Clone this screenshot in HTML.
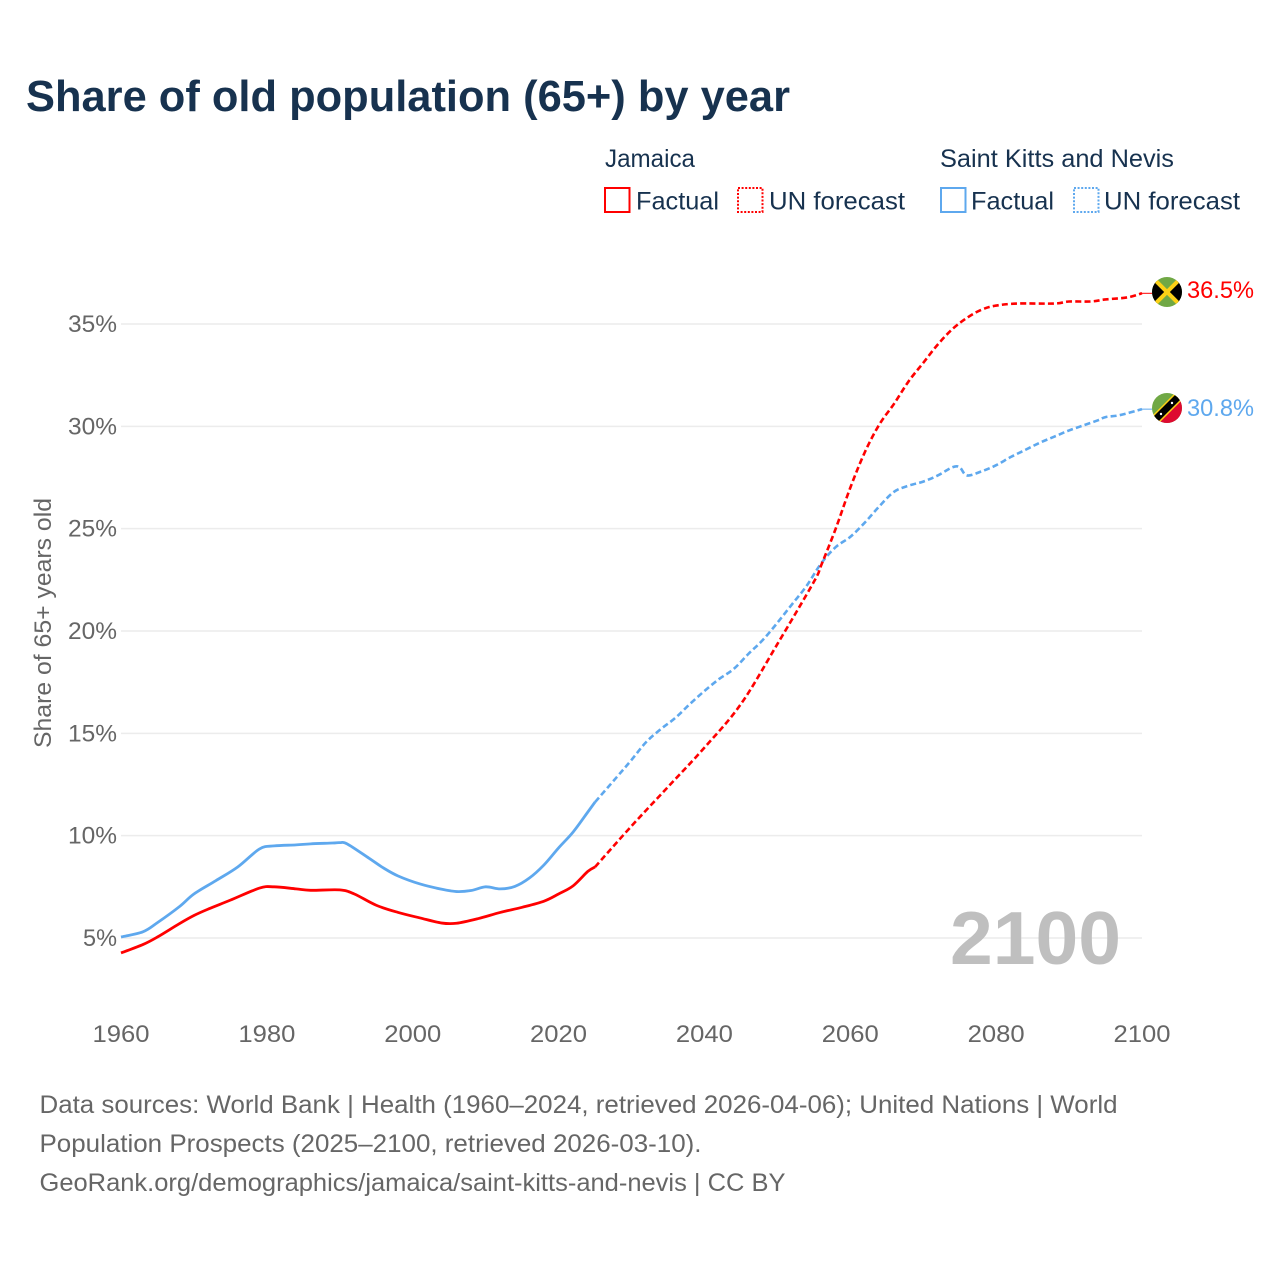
<!DOCTYPE html>
<html lang="en">
<head>
<meta charset="utf-8">
<title>Share of old population (65+) by year</title>
<style>
html,body{margin:0;padding:0;background:#fff;width:1280px;height:1280px;overflow:hidden}
svg{display:block}
text{font-family:"Liberation Sans",sans-serif}
</style>
</head>
<body>
<svg id="chart" xmlns="http://www.w3.org/2000/svg" width="1280" height="1280" viewBox="0 0 1280 1280">
  <rect width="1280" height="1280" fill="#fff"/>
  <text x="26" y="111" font-size="44" font-weight="700" fill="#17324f" textLength="764" lengthAdjust="spacingAndGlyphs">Share of old population (65+) by year</text>

  <g font-size="25" fill="#17324f">
    <text x="605" y="167" textLength="90" lengthAdjust="spacingAndGlyphs">Jamaica</text>
    <rect x="605" y="188" width="24.500" height="24" fill="none" stroke="#ff0000" stroke-width="2"/>
    <text x="636" y="209.500" textLength="83" lengthAdjust="spacingAndGlyphs">Factual</text>
    <rect x="738" y="188" width="24.500" height="24" fill="none" stroke="#ff0000" stroke-width="2" stroke-dasharray="2 1.600"/>
    <text x="769" y="209.500" textLength="136" lengthAdjust="spacingAndGlyphs">UN forecast</text>
    <text x="940" y="167" textLength="234" lengthAdjust="spacingAndGlyphs">Saint Kitts and Nevis</text>
    <rect x="941" y="188" width="24.500" height="24" fill="none" stroke="#5ea8ee" stroke-width="2"/>
    <text x="971" y="209.500" textLength="83" lengthAdjust="spacingAndGlyphs">Factual</text>
    <rect x="1074" y="188" width="24.500" height="24" fill="none" stroke="#5ea8ee" stroke-width="2" stroke-dasharray="2 1.600"/>
    <text x="1104" y="209.500" textLength="136" lengthAdjust="spacingAndGlyphs">UN forecast</text>
  </g>

  <g id="grid"></g>
  <g id="y-ticks"></g>
  <g id="x-ticks"></g>
  <text transform="translate(51,748) rotate(-90)" font-size="24.500" fill="#666" textLength="250" lengthAdjust="spacingAndGlyphs">Share of 65+ years old</text>
  <text x="950" y="964" font-size="75" font-weight="700" fill="#bfbfbf" textLength="171" lengthAdjust="spacingAndGlyphs">2100</text>
  <g id="series"></g>

  <defs>
    <clipPath id="clip-jm"><circle cx="1167" cy="292" r="15"/></clipPath>
    <clipPath id="clip-kn"><circle cx="1167" cy="408" r="15"/></clipPath>
  </defs>
  <g clip-path="url(#clip-jm)">
    <rect x="1152" y="277" width="30" height="30" fill="#70a845"/>
    <polygon points="1152,277 1167,292 1152,307" fill="#000"/>
    <polygon points="1182,277 1167,292 1182,307" fill="#000"/>
    <line x1="1152" y1="277" x2="1182" y2="307" stroke="#fcd116" stroke-width="4"/>
    <line x1="1182" y1="277" x2="1152" y2="307" stroke="#fcd116" stroke-width="4"/>
  </g>
  <g clip-path="url(#clip-kn)">
    <rect x="1152" y="393" width="30" height="30" fill="#70a845"/>
    <polygon points="1182,393 1182,423 1152,423" fill="#de0a30"/>
    <line x1="1152" y1="423" x2="1182" y2="393" stroke="#fcd116" stroke-width="10"/>
    <line x1="1152" y1="423" x2="1182" y2="393" stroke="#000" stroke-width="7"/>
    <circle cx="1161" cy="414" r="1.200" fill="#fff"/>
    <circle cx="1172" cy="403" r="1.200" fill="#fff"/>
  </g>
  <text id="value-jamaica" x="1187" y="298" font-size="24" fill="#ff0000" textLength="67" lengthAdjust="spacingAndGlyphs"></text>
  <text id="value-kn" x="1187" y="416" font-size="24" fill="#5ea8ee" textLength="67" lengthAdjust="spacingAndGlyphs"></text>

  <g font-size="25" fill="#666">
    <text x="39.500" y="1113" textLength="1078" lengthAdjust="spacingAndGlyphs">Data sources: World Bank | Health (1960–2024, retrieved 2026-04-06); United Nations | World</text>
    <text x="39.500" y="1152" textLength="662" lengthAdjust="spacingAndGlyphs">Population Prospects (2025–2100, retrieved 2026-03-10).</text>
    <text x="39.500" y="1191" textLength="746" lengthAdjust="spacingAndGlyphs">GeoRank.org/demographics/jamaica/saint-kitts-and-nevis | CC BY</text>
  </g>
</svg>
<script>
const yTickValues = [5, 10, 15, 20, 25, 30, 35];
const xTickYears = [1960, 1980, 2000, 2020, 2040, 2060, 2080, 2100];

const jamaicaFactualYears = [1960,1963,1965,1968,1970,1972,1975,1979,1981,1984,1986,1990,1992,1995,1998,2001,2004,2006,2009,2012,2015,2018,2020,2022,2024,2025];
const jamaicaFactualValues = [4.27,4.68,5.05,5.7,6.1,6.42,6.85,7.44,7.5,7.4,7.33,7.35,7.15,6.6,6.25,5.98,5.73,5.72,5.95,6.25,6.5,6.8,7.15,7.55,8.25,8.47];

const jamaicaForecastYears = [2025,2030,2035,2040,2045,2050,2055,2056,2058,2060,2062,2064,2066,2068,2070,2072,2074,2076,2078,2080,2083,2088,2090,2093,2095,2098,2100];
const jamaicaForecastValues = [8.47,10.47,12.38,14.3,16.43,19.36,22.4,23.2,25.0,27.0,28.74,30.1,31.1,32.2,33.1,34.0,34.75,35.3,35.7,35.9,36.0,36.0,36.1,36.1,36.2,36.3,36.5];

const kittsFactualYears = [1960,1963,1965,1968,1970,1973,1976,1979,1981,1984,1986,1989,1990,1991,1994,1996,1998,2001,2004,2006,2008,2010,2012,2014,2016,2018,2020,2022,2024,2025];
const kittsFactualValues = [5.05,5.3,5.75,6.53,7.15,7.8,8.47,9.35,9.5,9.55,9.6,9.64,9.66,9.6,8.9,8.42,8.03,7.64,7.38,7.27,7.32,7.5,7.4,7.52,7.93,8.57,9.4,10.18,11.15,11.64];

const kittsForecastYears = [2025,2028,2030,2032,2034,2036,2038,2040,2042,2044,2046,2048,2050,2052,2054,2056,2058,2060,2062,2064,2066,2068,2070,2072,2074,2075,2076,2078,2080,2082,2084,2086,2088,2090,2092,2094,2095,2097,2100];
const kittsForecastValues = [11.64,12.87,13.7,14.57,15.2,15.75,16.43,17.07,17.65,18.14,18.87,19.56,20.4,21.3,22.2,23.3,24.1,24.6,25.3,26.1,26.8,27.1,27.3,27.6,28.0,28.0,27.6,27.8,28.1,28.5,28.85,29.2,29.5,29.8,30.05,30.3,30.45,30.55,30.84];

const RED = '#ff0000';
const BLUE = '#5ea8ee';
const NS = 'http://www.w3.org/2000/svg';
const xScale = function (year) { return 121 + (year - 1960) * (1142 - 121) / 140; };
const yScale = function (value) { return 938 - (value - 5) * (938 - 324) / 30; };

function make(tag, parent, attrs) {
  const el = document.createElementNS(NS, tag);
  Object.keys(attrs).forEach(function (k) { el.setAttribute(k, attrs[k]); });
  parent.appendChild(el);
  return el;
}

function smoothPath(years, values) {
  const p = years.map(function (y, i) { return [xScale(y), yScale(values[i])]; });
  let d = 'M' + p[0][0].toFixed(2) + ' ' + p[0][1].toFixed(2);
  for (let i = 0; i < p.length - 1; i++) {
    const a = p[Math.max(i - 1, 0)], b = p[i], c = p[i + 1], e = p[Math.min(i + 2, p.length - 1)];
    const c1x = b[0] + (c[0] - a[0]) / 6, c1y = b[1] + (c[1] - a[1]) / 6;
    const c2x = c[0] - (e[0] - b[0]) / 6, c2y = c[1] - (e[1] - b[1]) / 6;
    d += 'C' + c1x.toFixed(2) + ' ' + c1y.toFixed(2) + ' ' + c2x.toFixed(2) + ' ' + c2y.toFixed(2) + ' ' + c[0].toFixed(2) + ' ' + c[1].toFixed(2);
  }
  return d;
}

const gridGroup = document.getElementById('grid');
const yTickGroup = document.getElementById('y-ticks');
const xTickGroup = document.getElementById('x-ticks');
const seriesGroup = document.getElementById('series');

yTickValues.forEach(function (v) {
  const line = make('line', gridGroup, { x1: 121, x2: 1142, y1: yScale(v), y2: yScale(v), stroke: '#ececec', 'stroke-width': 1.5 });
  
  
  const label = make('text', yTickGroup, { x: 117, y: yScale(v) + 8, 'text-anchor': 'end', 'font-size': 24.5, fill: '#666', textLength: v < 10 ? 34 : 49, lengthAdjust: 'spacingAndGlyphs' });
  label.textContent = v + '%';
  
  
});

xTickYears.forEach(function (yr) {
  const label = make('text', xTickGroup, { x: xScale(yr), y: 1042, 'text-anchor': 'middle', 'font-size': 24.5, fill: '#666', textLength: 57, lengthAdjust: 'spacingAndGlyphs' });
  label.textContent = String(yr);
  
  
});

const kittsForecastLine = make('path', seriesGroup, { d: smoothPath(kittsForecastYears, kittsForecastValues), fill: 'none', stroke: BLUE, 'stroke-width': 2.6, 'stroke-dasharray': '6 3.2' });



const jamaicaForecastLine = make('path', seriesGroup, { d: smoothPath(jamaicaForecastYears, jamaicaForecastValues), fill: 'none', stroke: RED, 'stroke-width': 2.6, 'stroke-dasharray': '6 3.2' });



const kittsFactualLine = make('path', seriesGroup, { d: smoothPath(kittsFactualYears, kittsFactualValues), fill: 'none', stroke: BLUE, 'stroke-width': 2.8, 'stroke-linejoin': 'round' });



const jamaicaFactualLine = make('path', seriesGroup, { d: smoothPath(jamaicaFactualYears, jamaicaFactualValues), fill: 'none', stroke: RED, 'stroke-width': 2.8, 'stroke-linejoin': 'round' });



const jamaicaLast = jamaicaForecastValues[jamaicaForecastValues.length - 1];
const kittsLast = kittsForecastValues[kittsForecastValues.length - 1];

const jamaicaLeader = make('line', seriesGroup, { x1: xScale(2100), y1: yScale(jamaicaLast), x2: 1153, y2: yScale(jamaicaLast), stroke: RED, 'stroke-width': 1 });



const kittsLeader = make('line', seriesGroup, { x1: xScale(2100), y1: yScale(kittsLast), x2: 1153, y2: yScale(kittsLast), stroke: BLUE, 'stroke-width': 1 });



document.getElementById('value-jamaica').textContent = jamaicaLast.toFixed(1) + '%';
document.getElementById('value-kn').textContent = kittsLast.toFixed(1) + '%';
</script>
</body>
</html>
